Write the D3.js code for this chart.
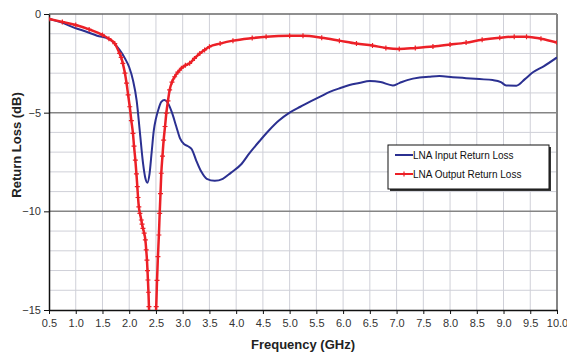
<!DOCTYPE html>
<html>
<head>
<meta charset="utf-8">
<script src="https://cdn.jsdelivr.net/npm/d3@7"></script>
<style>
  body { margin: 0; background: #fff; }
  text { font-family: "Liberation Sans", Arial, sans-serif; }
  .tick text { fill: #333; font-size: 11px; }
  .axisText { font-size: 13px; font-weight: bold; fill: #222; }
</style>
</head>
<body>
<div id="chart"></div>
<script>
var svgWidth = 567;
var svgHeight = 353;

var margin = { top: 14, right: 10, bottom: 43, left: 49 };

var width = 557 - margin.left;
var height = 310 - margin.top;

// tick labels
var xTicks = [0.5, 1.0, 1.5, 2.0, 2.5, 3.0, 3.5, 4.0, 4.5, 5.0, 5.5, 6.0, 6.5, 7.0, 7.5, 8.0, 8.5, 9.0, 9.5, 10.0];
var yTicks = [0, -5, -10, -15];
var seriesNames = ["LNA Input Return Loss", "LNA Output Return Loss"];

// LNA input return loss (GHz, dB)
var inputFreq = [0.5, 0.7, 1.0, 1.2, 1.4, 1.63, 1.82, 1.92, 2.0, 2.07, 2.14, 2.2, 2.26, 2.3, 2.34, 2.38,
  2.42, 2.46, 2.5, 2.55, 2.6, 2.66, 2.72, 2.8, 2.88, 2.95, 3.03, 3.1, 3.17, 3.25, 3.35, 3.45, 3.6,
  3.75, 3.9, 4.1, 4.25, 4.45, 4.62, 4.8, 5.0, 5.2, 5.4, 5.6, 5.75, 5.95, 6.12, 6.3, 6.5, 6.7, 6.93,
  7.05, 7.2, 7.43, 7.6, 7.8, 8.05, 8.3, 8.55, 8.8, 8.95, 9.05, 9.24, 9.4, 9.55, 9.75, 10.0];
var inputLoss = [-0.25, -0.4, -0.72, -0.9, -1.1, -1.28, -1.82, -2.25, -2.7, -3.35, -4.4, -6.0, -7.6, -8.3, -8.55, -8.1,
  -7.0, -5.9, -5.3, -4.8, -4.45, -4.36, -4.5, -5.0, -5.7, -6.3, -6.6, -6.7, -6.85, -7.4, -8.0, -8.35, -8.45,
  -8.35, -8.05, -7.6, -7.05, -6.4, -5.88, -5.4, -5.0, -4.7, -4.42, -4.15, -3.95, -3.75, -3.6, -3.5, -3.4, -3.45, -3.62,
  -3.5, -3.35, -3.22, -3.18, -3.14, -3.2, -3.25, -3.3, -3.35, -3.45, -3.62, -3.63, -3.3, -2.95, -2.65, -2.2];

// LNA output return loss (GHz, dB)
var outputFreq = [0.5, 0.75, 1.0, 1.25, 1.5, 1.62, 1.73, 1.82, 1.85, 1.88, 1.92, 1.95, 1.98, 2.01, 2.04, 2.07,
  2.09, 2.115, 2.135, 2.152, 2.165, 2.18, 2.2, 2.227, 2.24, 2.257, 2.28, 2.302, 2.318, 2.332, 2.342, 2.35,
  2.36, 2.369, 2.43, 2.505, 2.52, 2.537, 2.555, 2.57, 2.585, 2.6, 2.622, 2.644, 2.67, 2.694, 2.725, 2.756,
  2.8, 2.85, 2.91, 2.975, 3.05, 3.13, 3.22, 3.32, 3.41, 3.5, 3.7, 3.94, 4.3, 4.56, 5.0, 5.25, 5.6, 5.93,
  6.25, 6.55, 6.8, 7.05, 7.35, 7.68, 8.0, 8.3, 8.6, 8.93, 9.2, 9.43, 9.7, 10.0];
var outputLoss = [-0.25, -0.4, -0.56, -0.78, -1.06, -1.25, -1.5, -2.0, -2.2, -2.5, -3.0, -3.5, -4.1, -4.7, -5.4, -6.05,
  -6.7, -7.4, -8.1, -8.75, -9.3, -9.77, -10.1, -10.44, -10.65, -10.86, -11.1, -11.45, -11.95, -12.47, -13.0, -13.48,
  -14.1, -14.83, -17.0, -14.83, -13.5, -12.3, -11.2, -10.1, -9.1, -8.07, -7.2, -6.39, -5.7, -5.03, -4.4, -3.85,
  -3.45, -3.18, -2.95, -2.75, -2.6, -2.5, -2.25, -2.0, -1.82, -1.66, -1.5, -1.35, -1.22, -1.15, -1.1, -1.1, -1.2, -1.35,
  -1.5, -1.6, -1.72, -1.77, -1.72, -1.65, -1.55, -1.45, -1.3, -1.2, -1.15, -1.15, -1.25, -1.45];

var inputData = inputFreq.map((f, i) => ({ f: f, v: inputLoss[i] }));
var outputData = outputFreq.map((f, i) => ({ f: f, v: outputLoss[i] }));

var svg = d3.select("#chart")
  .append("svg")
  .attr("width", svgWidth)
  .attr("height", svgHeight);

var chartGroup = svg.append("g")
  .attr("transform", `translate(${margin.left}, ${margin.top})`);

var xScale = d3.scaleLinear().domain([0.5, 10]).range([0, width]);
var yScale = d3.scaleLinear().domain([-15, 0]).range([height, 0]);

// grid
chartGroup.append("g")
  .selectAll("line")
  .data(xTicks.slice(1, -1))
  .enter().append("line")
  .attr("x1", d => xScale(d)).attr("x2", d => xScale(d))
  .attr("y1", 0).attr("y2", height)
  .attr("stroke", "#cfd0d8").attr("stroke-width", 1);

chartGroup.append("g")
  .selectAll("line")
  .data(d3.range(-14, 0))
  .enter().append("line")
  .attr("x1", 0).attr("x2", width)
  .attr("y1", d => yScale(d)).attr("y2", d => yScale(d))
  .attr("stroke", d => d % 5 === 0 ? "#858585" : "#cfd0d8")
  .attr("stroke-width", d => d % 5 === 0 ? 1.5 : 1);

// frame top and right
chartGroup.append("line")
  .attr("x1", 0).attr("x2", width).attr("y1", 0).attr("y2", 0)
  .attr("stroke", "#6a6a6a").attr("stroke-width", 1.5);
chartGroup.append("line")
  .attr("x1", width).attr("x2", width).attr("y1", 0).attr("y2", height)
  .attr("stroke", "#858585").attr("stroke-width", 2);

// axes
var xAxis = d3.axisBottom(xScale).tickValues(xTicks).tickFormat(d3.format(".1f")).tickSize(4).tickSizeOuter(0).tickPadding(5);
var yAxis = d3.axisLeft(yScale).tickValues(yTicks).tickFormat(d3.format("d")).tickSize(5).tickSizeOuter(0).tickPadding(3);

var gx = chartGroup.append("g")
  .attr("transform", `translate(0, ${height})`)
  .call(xAxis);
var gy = chartGroup.append("g").call(yAxis);
[gx, gy].forEach(g => {
  g.select(".domain").attr("stroke", "#111").attr("stroke-width", 1.5);
  g.selectAll(".tick line").attr("stroke", "#111");
  g.selectAll(".tick text").attr("font-size", 11).attr("font-family", "Liberation Sans, Arial, sans-serif");
});

// clip
chartGroup.append("clipPath").attr("id", "plotClip")
  .append("rect").attr("x", 0).attr("y", 0).attr("width", width).attr("height", height);

var line = d3.line()
  .x(d => xScale(d.f))
  .y(d => yScale(d.v))
  .curve(d3.curveMonotoneX);

var plot = chartGroup.append("g").attr("clip-path", "url(#plotClip)");

plot.append("path")
  .datum(inputData)
  .attr("fill", "none")
  .attr("stroke", "#2b3091")
  .attr("stroke-width", 2)
  .attr("d", line);

plot.append("path")
  .datum(outputData)
  .attr("fill", "none")
  .attr("stroke", "#ec2027")
  .attr("stroke-width", 2.5)
  .attr("d", line);

plot.selectAll(".marker")
  .data(outputData)
  .enter().append("path")
  .attr("class", "marker")
  .attr("transform", d => `translate(${xScale(d.f)}, ${yScale(d.v)})`)
  .attr("d", "M-2.5,0H2.5M0,-2.5V2.5")
  .attr("stroke", "#ec2027")
  .attr("stroke-width", 1.2);

// legend
var legend = svg.append("g").attr("transform", "translate(388, 145)");
legend.append("rect").attr("x", 2).attr("y", 2).attr("width", 161).attr("height", 44).attr("fill", "#333");
legend.append("rect").attr("x", 0).attr("y", 0).attr("width", 161).attr("height", 44)
  .attr("fill", "#fff").attr("stroke", "#111").attr("stroke-width", 1);

var colors = ["#2b3091", "#ec2027"];
seriesNames.forEach(function(name, i) {
  var yy = 10 + i * 19;
  legend.append("line").attr("x1", 7).attr("x2", 25).attr("y1", yy).attr("y2", yy)
    .attr("stroke", colors[i]).attr("stroke-width", 2);
  if (i === 1) {
    legend.append("path").attr("d", `M16,${yy - 2.5}V${yy + 2.5}`).attr("stroke", colors[i]).attr("stroke-width", 1.2);
  }
  legend.append("text").attr("x", 25).attr("y", yy + 3.5)
    .attr("font-size", 10).attr("fill", "#111").text(name);
});

// axis titles
svg.append("text")
  .attr("transform", "rotate(-90)")
  .attr("x", -145)
  .attr("y", 21)
  .attr("text-anchor", "middle")
  .attr("class", "axisText")
  .text("Return Loss (dB)");

svg.append("text")
  .attr("x", 303)
  .attr("y", 349)
  .attr("text-anchor", "middle")
  .attr("class", "axisText")
  .text("Frequency (GHz)");
</script>
</body>
</html>
